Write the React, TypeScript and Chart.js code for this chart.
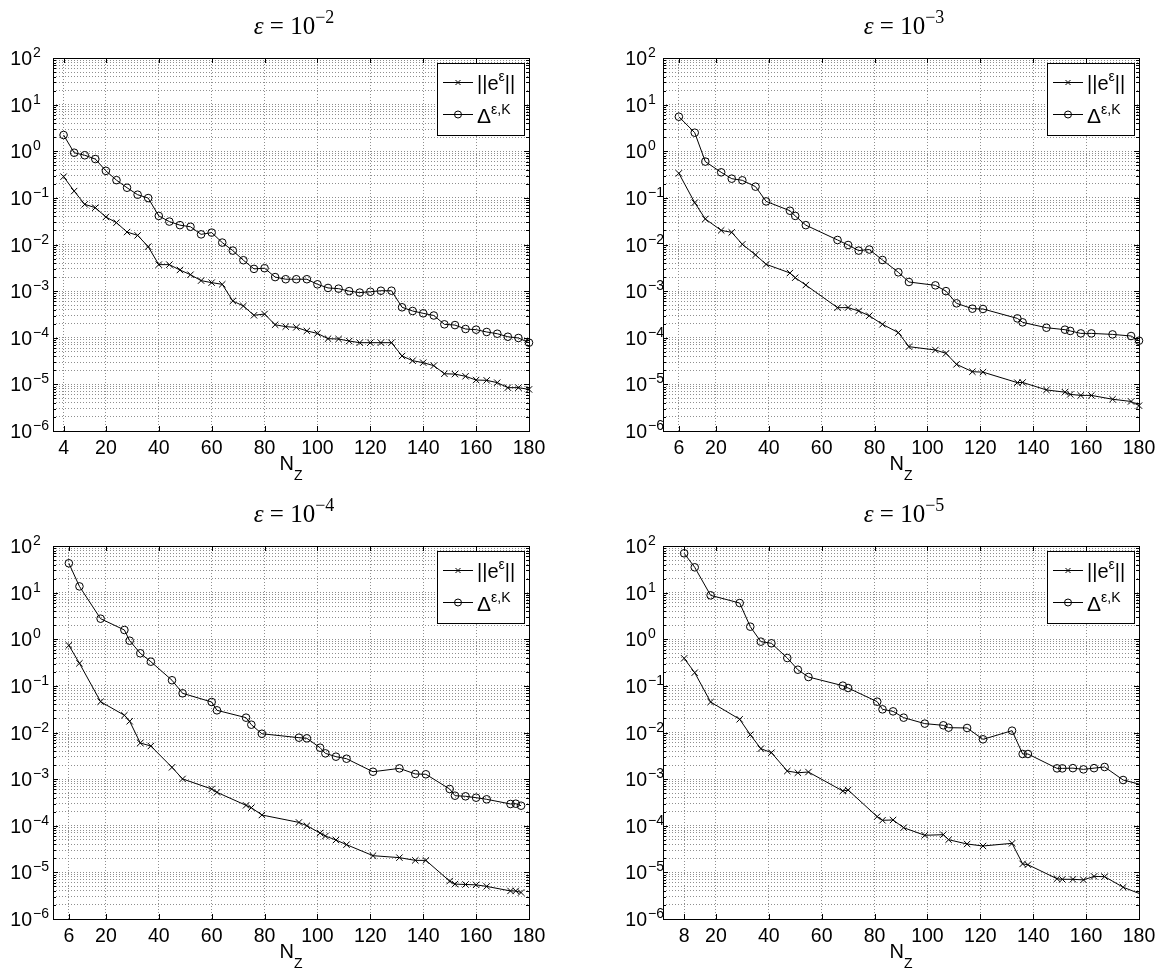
import React, { useEffect, useRef } from 'react';
import { Chart, registerables } from 'chart.js';

Chart.register(...registerables);

// ---------- data ----------
const nz1 = [4, 8, 12, 16, 20, 24, 28, 32, 36, 40, 44, 48, 52, 56, 60, 64, 68, 72, 76, 80, 84, 88, 92, 96, 100, 104, 108, 112, 116, 120, 124, 128, 132, 136, 140, 144, 148, 152, 156, 160, 164, 168, 172, 176, 180];
const err1 = [0.285, 0.14, 0.0726, 0.0616, 0.0389, 0.0294, 0.0185, 0.0157, 0.009, 0.0037, 0.0037, 0.00284, 0.00225, 0.00168, 0.00152, 0.0014, 0.000614, 0.00048, 0.000303, 0.000323, 0.00019, 0.000173, 0.000167, 0.00014, 0.000124, 0.0000955, 0.000094, 0.000085, 0.0000784, 0.0000784, 0.0000784, 0.0000784, 0.0000406, 0.0000322, 0.0000292, 0.0000252, 0.0000169, 0.0000166, 0.0000149, 0.0000124, 0.0000122, 0.0000109, 0.0000085, 0.0000085, 0.0000078];
const est1 = [2.23, 0.93, 0.82, 0.68, 0.38, 0.24, 0.165, 0.117, 0.099, 0.041, 0.031, 0.026, 0.024, 0.0165, 0.018, 0.011, 0.0074, 0.0046, 0.003, 0.0031, 0.002, 0.0018, 0.0018, 0.0018, 0.0014, 0.00117, 0.00113, 0.001, 0.00093, 0.00097, 0.00102, 0.00102, 0.00045, 0.000375, 0.000334, 0.0003, 0.000194, 0.000187, 0.000154, 0.000149, 0.000133, 0.000122, 0.000105, 0.0000989, 0.0000784];

const nz2 = [6, 12, 16, 22, 26, 30, 35, 39, 48, 50, 54, 66, 70, 74, 78, 83, 89, 93, 103, 107, 111, 117, 121, 134, 136, 145, 152, 154, 158, 162, 170, 177, 180];
const err2 = [0.336, 0.0789, 0.0353, 0.0201, 0.0182, 0.0101, 0.006, 0.00376, 0.00245, 0.00194, 0.00135, 0.000441, 0.000444, 0.000375, 0.000297, 0.000194, 0.000129, 0.0000644, 0.0000546, 0.0000463, 0.0000269, 0.0000187, 0.0000183, 0.0000109, 0.000011, 0.0000076, 0.0000068, 0.0000061, 0.0000058, 0.0000058, 0.0000048, 0.0000043, 0.0000035];
const est2 = [5.5, 2.5, 0.6, 0.353, 0.258, 0.238, 0.174, 0.084, 0.053, 0.041, 0.026, 0.0125, 0.00976, 0.0074, 0.0078, 0.00465, 0.00253, 0.00157, 0.00133, 0.001, 0.000547, 0.00042, 0.000414, 0.00026, 0.000214, 0.000164, 0.000149, 0.00014, 0.000124, 0.000124, 0.000118, 0.000109, 0.0000865];

const nz3 = [6, 10, 18, 27, 29, 33, 37, 45, 49, 60, 62, 73, 75, 79, 93, 96, 101, 103, 107, 111, 121, 131, 137, 141, 150, 152, 156, 160, 164, 173, 175, 177];
const err3 = [0.74, 0.305, 0.0458, 0.0234, 0.0174, 0.00596, 0.00513, 0.00179, 0.00101, 0.000614, 0.000521, 0.000274, 0.000244, 0.00017, 0.000118, 0.0001, 0.0000698, 0.0000602, 0.0000494, 0.0000393, 0.0000228, 0.0000207, 0.0000181, 0.0000181, 0.0000065, 0.0000056, 0.0000055, 0.0000054, 0.000005, 0.000004, 0.000004, 0.0000037];
const est3 = [42.6, 13.6, 2.76, 1.58, 0.93, 0.5, 0.33, 0.132, 0.0693, 0.0451, 0.0299, 0.0208, 0.0147, 0.0094, 0.00774, 0.0075, 0.00472, 0.00357, 0.00303, 0.00274, 0.00144, 0.0017, 0.00129, 0.00127, 0.000614, 0.000441, 0.000428, 0.0004, 0.000369, 0.000293, 0.000297, 0.000269];

const nz4 = [8, 12, 18, 29, 33, 37, 41, 47, 51, 55, 68, 70, 81, 83, 87, 91, 99, 106, 108, 115, 121, 132, 136, 138, 149, 151, 155, 159, 163, 167, 174, 182];
const err4 = [0.39, 0.192, 0.0451, 0.0192, 0.00897, 0.0045, 0.00369, 0.00149, 0.00137, 0.00142, 0.000556, 0.000584, 0.000157, 0.000131, 0.000133, 0.0000908, 0.0000624, 0.0000644, 0.0000502, 0.0000406, 0.0000368, 0.000042, 0.0000152, 0.0000146, 0.0000073, 0.0000071, 0.0000071, 0.0000069, 0.0000082, 0.0000081, 0.0000048, 0.0000032];
const est4 = [69.7, 34.9, 8.75, 5.98, 1.86, 0.888, 0.819, 0.396, 0.222, 0.155, 0.101, 0.09, 0.0458, 0.0314, 0.0284, 0.0208, 0.0155, 0.01426, 0.01268, 0.0125, 0.00714, 0.01094, 0.00346, 0.00346, 0.0017, 0.0017, 0.00172, 0.00162, 0.00172, 0.00182, 0.000957, 0.000734];

const epsExponents = ['−2', '−3', '−4', '−5'];
const firstTicks = [4, 6, 6, 8];
const xTicksCommon = [20, 40, 60, 80, 100, 120, 140, 160, 180];
const yDecades = [-6, -5, -4, -3, -2, -1, 0, 1, 2];
const minorMantissas = [1, 2, 3, 4, 5, 6, 7, 8, 9];

// ---------- styling ----------
const SANS = '"Liberation Sans", Arial, Helvetica, sans-serif';
const SERIF = '"Liberation Serif", "Times New Roman", serif';
const GRID = '#8f8f8f';

type Part = { t: string; font: string; dy: number };

function partsWidth(ctx: CanvasRenderingContext2D, parts: Part[]) {
  let w = 0;
  for (const p of parts) {
    ctx.font = p.font;
    w += ctx.measureText(p.t).width;
  }
  return w;
}
function drawParts(ctx: CanvasRenderingContext2D, parts: Part[], x: number, y: number) {
  let cx = x;
  ctx.textAlign = 'left';
  ctx.textBaseline = 'alphabetic';
  for (const p of parts) {
    ctx.font = p.font;
    ctx.fillText(p.t, cx, y + p.dy);
    cx += ctx.measureText(p.t).width;
  }
}
function line(ctx: CanvasRenderingContext2D, x1: number, y1: number, x2: number, y2: number) {
  ctx.beginPath();
  ctx.moveTo(x1, y1);
  ctx.lineTo(x2, y2);
  ctx.stroke();
}

type PanelCfg = {
  x: number; y: number; h: number; axisLeft: number; padRight: number; labelRight: number;
  nz: number[]; err: number[]; est: number[]; exp: string; first: number; clip: number;
};

const panels: PanelCfg[] = [
  { x: 0, y: 0, h: 484, axisLeft: 53, padRight: 54, labelRight: 32, nz: nz1, err: err1, est: est1, exp: epsExponents[0], first: firstTicks[0], clip: 6 },
  { x: 583, y: 0, h: 484, axisLeft: 80, padRight: 27, labelRight: 64, nz: nz2, err: err2, est: est2, exp: epsExponents[1], first: firstTicks[1], clip: 6 },
  { x: 0, y: 488, h: 481, axisLeft: 53, padRight: 54, labelRight: 32, nz: nz3, err: err3, est: est3, exp: epsExponents[2], first: firstTicks[2], clip: 6 },
  { x: 583, y: 488, h: 481, axisLeft: 80, padRight: 27, labelRight: 64, nz: nz4, err: err4, est: est4, exp: epsExponents[3], first: firstTicks[3], clip: 0 },
];

function makeDeco(p: PanelCfg) {
  return {
    id: 'deco',
    afterDraw(chart: any) {
      const ctx: CanvasRenderingContext2D = chart.ctx;
      const a = chart.chartArea;
      const xs = chart.scales.x;
      const ys = chart.scales.y;
      const L = Math.round(a.left), R = Math.round(a.right), T = Math.round(a.top), B = Math.round(a.bottom);
      ctx.save();
      ctx.setLineDash([]);
      ctx.strokeStyle = '#000';
      ctx.fillStyle = '#000';
      ctx.lineWidth = 1;
      // box
      ctx.strokeRect(L + 0.5, T + 0.5, R - L, B - T);
      // x ticks (inward, bottom and top)
      const xt = [p.first, ...xTicksCommon];
      for (const v of xt) {
        const px = Math.round(xs.getPixelForValue(v)) + 0.5;
        line(ctx, px, B, px, B - 5);
        line(ctx, px, T, px, T + 5);
      }
      // y ticks (major + minor)
      for (const e of yDecades) {
        for (const m of minorMantissas) {
          if (e === 2 && m > 1) break;
          const py = Math.round(ys.getPixelForValue(m * Math.pow(10, e))) + 0.5;
          const len = m === 1 ? 5 : 3;
          line(ctx, L, py, L + len, py);
          line(ctx, R, py, R - len, py);
        }
      }
      // x tick labels
      ctx.font = `19.5px ${SANS}`;
      ctx.textAlign = 'center';
      ctx.textBaseline = 'alphabetic';
      for (const v of xt) {
        ctx.fillText(String(v), xs.getPixelForValue(v), B + 23);
      }
      // y tick labels 10^e
      for (const e of yDecades) {
        const py = ys.getPixelForValue(Math.pow(10, e));
        ctx.font = `19.5px ${SANS}`;
        ctx.textAlign = 'right';
        ctx.fillText('10', p.labelRight, py + 7);
        ctx.font = `14px ${SANS}`;
        ctx.textAlign = 'left';
        ctx.fillText(e < 0 ? '−' + String(-e) : String(e), p.labelRight + 1, py - 1);
      }
      const cx = (L + R) / 2;
      // x axis label N_Z
      const xl: Part[] = [
        { t: 'N', font: `20px ${SANS}`, dy: 0 },
        { t: 'Z', font: `14px ${SANS}`, dy: 10 },
      ];
      drawParts(ctx, xl, cx - partsWidth(ctx, xl) / 2, B + 39);
      // title
      const tl: Part[] = [
        { t: 'ε', font: `italic 25px ${SERIF}`, dy: 0 },
        { t: ' = 10', font: `25px ${SERIF}`, dy: 0 },
        { t: p.exp, font: `18px ${SERIF}`, dy: -11 },
      ];
      drawParts(ctx, tl, cx + 3 - partsWidth(ctx, tl) / 2, T - 24);
      // legend
      const bw = 87, bh = 72;
      const bx = R - 5 - bw, by = T + 5;
      ctx.fillStyle = '#fff';
      ctx.fillRect(bx, by, bw, bh);
      ctx.strokeStyle = '#000';
      ctx.strokeRect(bx + 0.5, by + 0.5, bw, bh);
      ctx.fillStyle = '#000';
      const r1 = by + 19.5, r2 = by + 51.5;
      line(ctx, bx + 6, r1, bx + 36, r1);
      line(ctx, bx + 6, r2, bx + 36, r2);
      const mx = bx + 21;
      line(ctx, mx - 2.5, r1 - 2.5, mx + 2.5, r1 + 2.5);
      line(ctx, mx - 2.5, r1 + 2.5, mx + 2.5, r1 - 2.5);
      ctx.beginPath();
      ctx.arc(mx, r2, 3.5, 0, Math.PI * 2);
      ctx.stroke();
      const lg1: Part[] = [
        { t: '||e', font: `20px ${SANS}`, dy: 0 },
        { t: 'ε', font: `14px ${SANS}`, dy: -9 },
        { t: '||', font: `20px ${SANS}`, dy: 0 },
      ];
      const lg2: Part[] = [
        { t: 'Δ', font: `21px ${SANS}`, dy: 0 },
        { t: 'ε,K', font: `14px ${SANS}`, dy: -9 },
      ];
      drawParts(ctx, lg1, bx + 40, r1 + 7);
      drawParts(ctx, lg2, bx + 40, r2 + 8);
      ctx.restore();
    },
  };
}

function buildConfig(p: PanelCfg): any {
  const mk = (ys: number[]) => p.nz.map((x, i) => ({ x, y: ys[i] }));
  return {
    type: 'line',
    data: {
      datasets: [
        {
          label: '||e^ε||',
          data: mk(p.err),
          borderColor: '#000',
          borderWidth: 1,
          pointStyle: 'crossRot',
          pointRadius: 4.5,
          pointBorderWidth: 1,
          pointBorderColor: '#000',
          pointBackgroundColor: 'rgba(0,0,0,0)',
          fill: false,
          tension: 0,
          clip: p.clip,
        },
        {
          label: 'Δ^{ε,K}',
          data: mk(p.est),
          borderColor: '#000',
          borderWidth: 1,
          pointStyle: 'circle',
          pointRadius: 3.8,
          pointBorderWidth: 1,
          pointBorderColor: '#000',
          pointBackgroundColor: 'rgba(0,0,0,0)',
          fill: false,
          tension: 0,
          clip: p.clip,
        },
      ],
    },
    options: {
      animation: false,
      responsive: false,
      events: [],
      layout: { padding: { left: 0, top: 58, right: p.padRight, bottom: 0 } },
      plugins: { legend: { display: false }, tooltip: { enabled: false }, title: { display: false } },
      scales: {
        x: {
          type: 'linear',
          position: 'bottom',
          min: 0,
          max: 180,
          afterBuildTicks: (s: any) => {
            s.ticks = [p.first, ...xTicksCommon].map((v) => ({ value: v }));
          },
          afterFit: (s: any) => {
            s.height = p.h - 431;
          },
          ticks: { display: false },
          grid: { color: GRID, lineWidth: 1, drawTicks: false },
          border: { display: false, dash: [1, 2] },
        },
        y: {
          type: 'logarithmic',
          position: 'left',
          min: 1e-6,
          max: 1e2,
          afterBuildTicks: (s: any) => {
            const t: { value: number }[] = [];
            for (const e of yDecades) {
              for (const m of minorMantissas) {
                if (e === 2 && m > 1) break;
                t.push({ value: m * Math.pow(10, e) });
              }
            }
            s.ticks = t;
          },
          afterFit: (s: any) => {
            s.width = p.axisLeft;
          },
          ticks: { display: false },
          grid: { color: GRID, lineWidth: 1, drawTicks: false },
          border: { display: false, dash: [1, 2] },
        },
      },
    },
    plugins: [makeDeco(p)],
  };
}

function Panel({ p }: { p: PanelCfg }) {
  const ref = useRef<HTMLCanvasElement>(null);
  useEffect(() => {
    const chart = new Chart(ref.current as HTMLCanvasElement, buildConfig(p));
    return () => chart.destroy();
  }, [p]);
  return (
    <canvas
      ref={ref}
      width={583}
      height={p.h}
      style={{ position: 'absolute', left: p.x, top: p.y, width: 583, height: p.h }}
    />
  );
}

export default function App() {
  return (
    <div style={{ position: 'absolute', left: 0, top: 0, width: 1166, height: 969, overflow: 'hidden', background: '#fff' }}>
      {panels.map((p, i) => (
        <Panel key={i} p={p} />
      ))}
    </div>
  );
}
